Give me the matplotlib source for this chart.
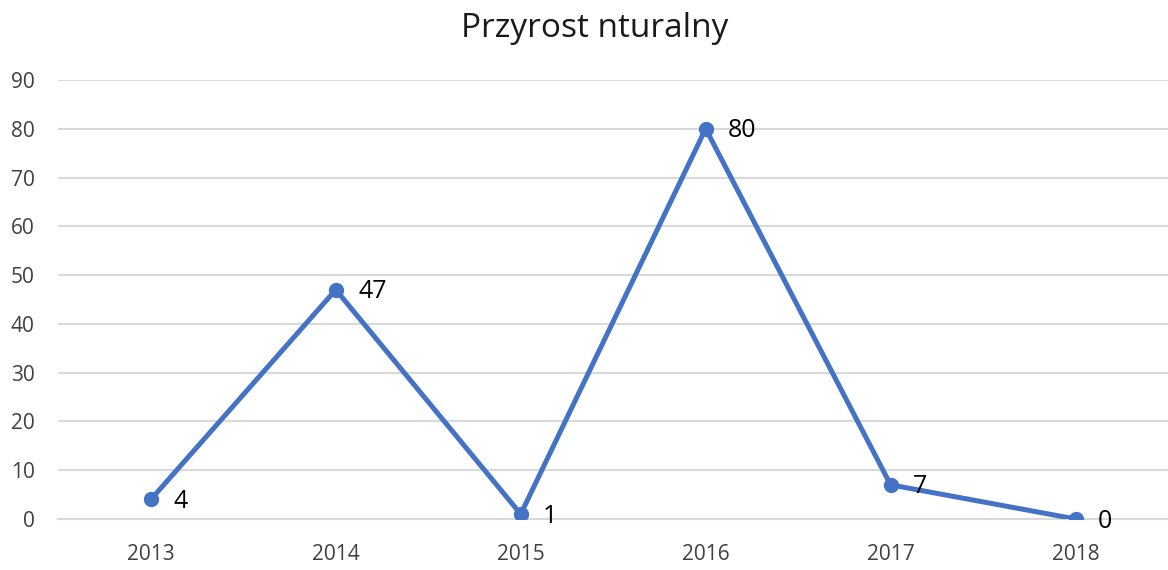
import numpy as np
import matplotlib.pyplot as plt

years = ['2013', '2014', '2015', '2016', '2017', '2018']
values = [4, 47, 1, 80, 7, 0]
yticks = [0, 10, 20, 30, 40, 50, 60, 70, 80, 90]

plt.rcParams['font.family'] = ['Open Sans', 'DejaVu Sans']

fig = plt.figure(figsize=(11.68, 5.70), dpi=100)
ax = fig.add_axes([0.05, 0.0895, 0.95, 0.7702])

x = np.arange(len(years))
ax.plot(x, values, '-o', color='#4472C4', linewidth=3.6, markersize=10, zorder=3)

# data labels to the right of each point
for xi, v in zip(x, values):
    ax.annotate(str(v), (xi, v), xytext=(16, -1.5), textcoords='offset points',
                ha='left', va='center', fontsize=18, color='black')

ax.set_xlim(-0.5, len(years) - 0.5)
ax.set_ylim(0, 90)
ax.set_xticks(x)
ax.set_xticklabels(years)
ax.set_yticks(yticks)
ax.grid(axis='y', color='#d9d9d9', linewidth=1.5)
ax.set_axisbelow(True)
for s in ax.spines.values():
    s.set_visible(False)
ax.spines['bottom'].set_visible(True)
ax.spines['bottom'].set_color('#d9d9d9')
ax.spines['bottom'].set_linewidth(1.5)
ax.tick_params(axis='both', length=0, labelsize=15, labelcolor='#404040')
ax.tick_params(axis='x', pad=18)
ax.tick_params(axis='y', pad=17)

fig.text(0.509, 0.95, 'Przyrost nturalny', ha='center', va='center', fontsize=24, color='#1a1a1a')

fig.savefig('out.png', dpi=100)
